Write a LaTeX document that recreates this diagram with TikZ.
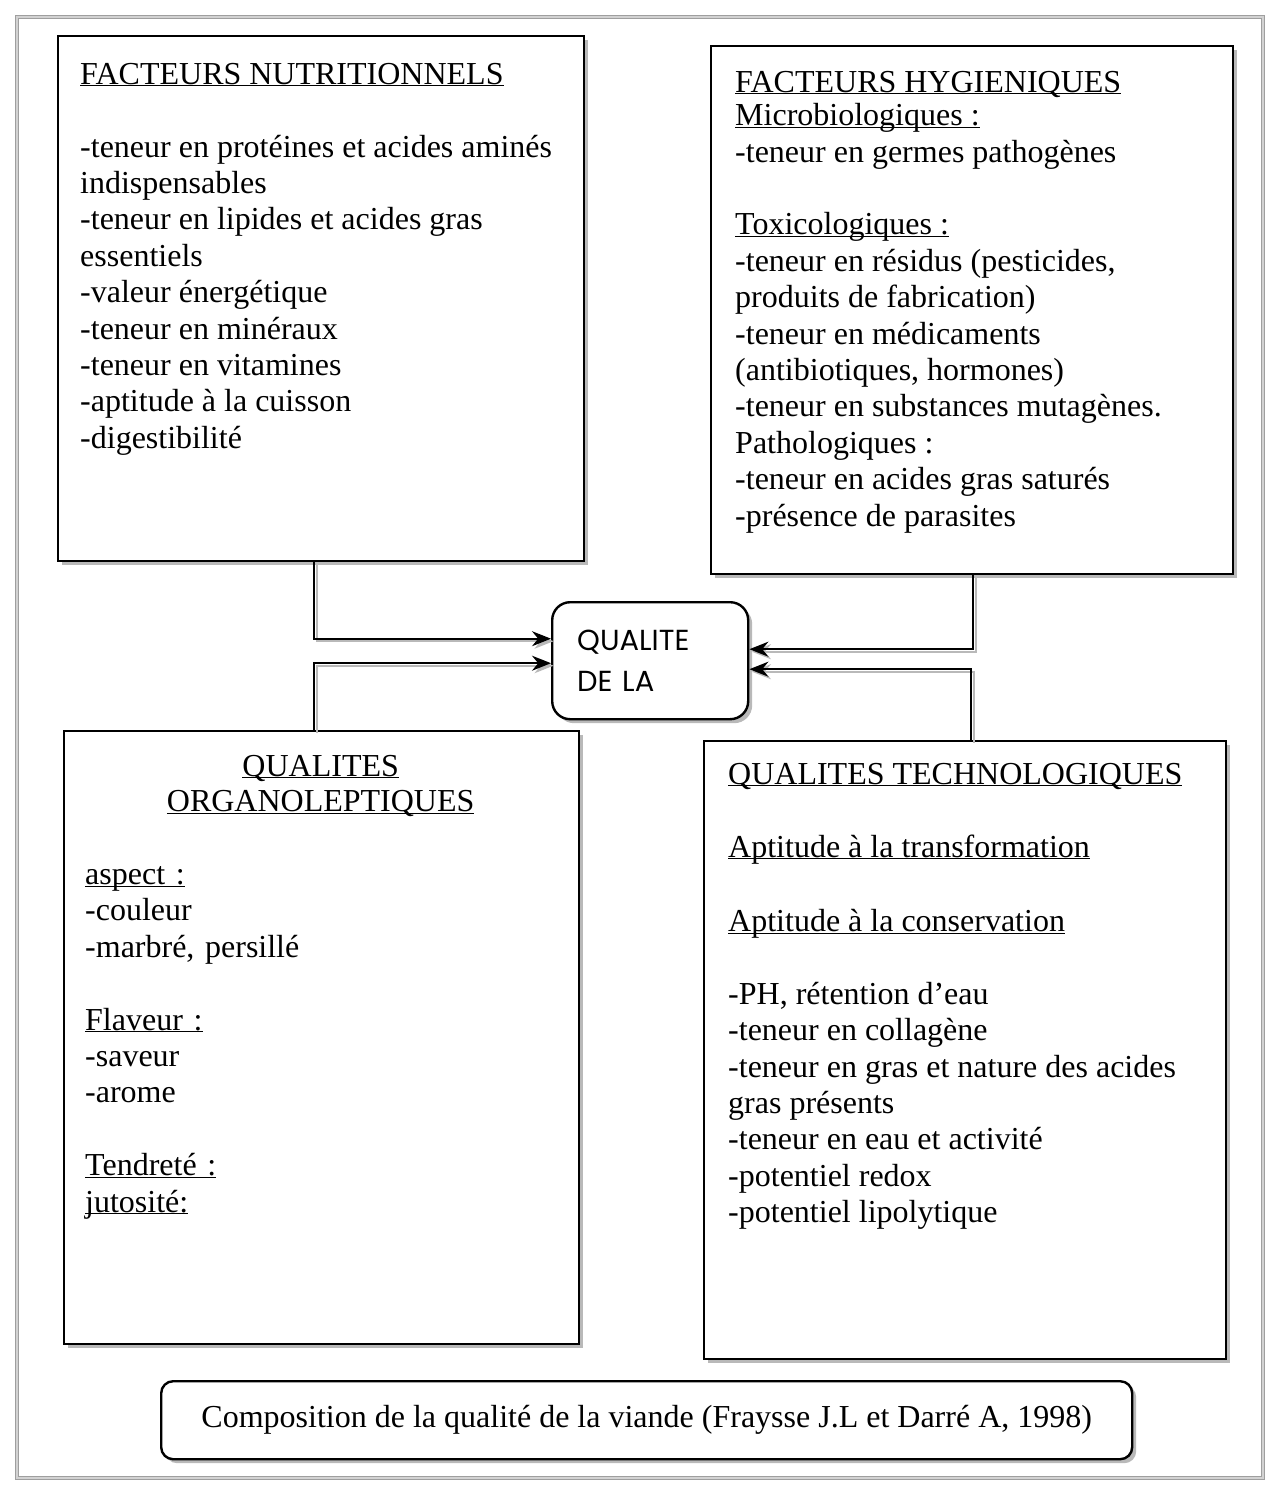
\documentclass[tikz,border=0pt]{standalone}
\usepackage{fontspec}
\setmainfont{Liberation Serif}
\newfontfamily\gothic{Poppins}
\usetikzlibrary{positioning,arrows.meta,shadows}
\newcommand{\souligne}[1]{\underline{\smash{#1}}}

\begin{document}
\begin{tikzpicture}[x=1pt,y=-1pt,
  frame/.style={draw=gray!75,double=gray!35,double distance=2pt,line width=1.3pt},
  box/.style={draw,line width=2.4pt,anchor=north west,inner sep=0pt,fill=white,
    drop shadow={shadow xshift=4pt,shadow yshift=-4pt,fill=gray!55,opacity=1}},
  txt/.style={anchor=north west,inner sep=0pt,align=left,
    font=\fontsize{32}{36.4}\selectfont},
  link/.style={line width=1.6pt,-{Stealth[length=19pt,width=15pt]},
    preaction={draw=gray!55,line width=1.6pt,
      transform canvas={shift={(2.5pt,-2.5pt)}}}}]
  \useasboundingbox[fill=white] (0,0) rectangle (1279,1491);
  \draw[frame] (17,17) rectangle (1263,1478);

  % --- the four boxes ---
  \node[box,minimum width=526pt,minimum height=525pt] (nutri) at (57,35) {};
  \node[box,minimum width=522pt,minimum height=528pt] (hygi) at (710,45) {};
  \node[box,minimum width=515pt,minimum height=613pt] (orga) at (63,730) {};
  \node[box,minimum width=522pt,minimum height=618pt] (techno) at (703,740) {};

  % --- centre and caption ---
  \node[box,rounded corners=18pt,minimum width=196pt,minimum height=117pt,
    inner xsep=25pt,text width=146pt,align=left,
    font=\gothic\fontsize{29}{41}\selectfont] (qualite) at (551,601)
    {QUALITE\\DE LA};
  \node[box,rounded corners=12pt,minimum width=971pt,minimum height=78pt,
    font=\fontsize{32}{36.4}\selectfont] (legende) at (160,1380)
    {Composition de la qualité de la viande (Fraysse J.L et Darré A, 1998)};

  % --- box texts ---
  \node[txt,below right=49pt and 23pt of nutri.north west] (nutritxt) {%
    \souligne{FACTEURS NUTRITIONNELS}\\[36.4pt]
    -teneur en protéines et acides aminés\\
    indispensables\\
    -teneur en lipides et acides gras\\
    essentiels\\
    -valeur énergétique\\
    -teneur en minéraux\\
    -teneur en vitamines\\
    -aptitude à la cuisson\\
    -digestibilité};
  \node[txt,below right=47pt and 25pt of hygi.north west] (hygitxt) {%
    \souligne{FACTEURS HYGIENIQUES}\\[-3pt]
    \souligne{Microbiologiques :}\\
    -teneur en germes pathogènes\\[36.4pt]
    \souligne{Toxicologiques :}\\
    -teneur en résidus (pesticides,\\
    produits de fabrication)\\
    -teneur en médicaments\\
    (antibiotiques, hormones)\\
    -teneur en substances mutagènes.\\
    Pathologiques :\\
    -teneur en acides gras saturés\\
    -présence de parasites};
  \node[txt,below right=46pt and 22pt of orga.north west,text width=471pt] (orgatxt) {%
    {\centering\souligne{QUALITES}\\[-1pt]
    \souligne{ORGANOLEPTIQUES}\par}
    \vspace{36.4pt}
    \souligne{aspect :}\\
    -couleur\\
    -marbré, persillé\\[36.4pt]
    \souligne{Flaveur :}\\
    -saveur\\
    -arome\\[36.4pt]
    \souligne{Tendreté :}\\
    \souligne{jutosité:}};
  \node[txt,below right=44pt and 25pt of techno.north west] (technotxt) {%
    \souligne{QUALITES TECHNOLOGIQUES}\\[36.4pt]
    \souligne{Aptitude à la transformation}\\[38pt]
    \souligne{Aptitude à la conservation}\\[36.4pt]
    -PH, rétention d’eau\\
    -teneur en collagène\\
    -teneur en gras et nature des acides\\
    gras présents\\
    -teneur en eau et activité\\
    -potentiel redox\\
    -potentiel lipolytique};

  % --- connectors ---
  \draw[link] ([xshift=-7pt]nutri.south) |- ([yshift=22pt]qualite.west);
  \draw[link] ([xshift=-7.5pt]orga.north) |- ([yshift=-2.5pt]qualite.west);
  \draw[link] ([xshift=1pt]hygi.south) |- ([yshift=11.5pt]qualite.east);
  \draw[link] ([xshift=6pt]techno.north) |- ([yshift=-8.5pt]qualite.east);
\end{tikzpicture}
\end{document}
